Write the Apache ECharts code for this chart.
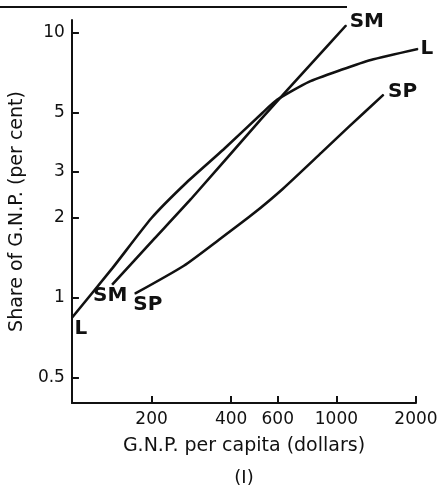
<!DOCTYPE html>
<html>
<head>
<meta charset="utf-8">
<title>Share of G.N.P.</title>
<script src="https://cdn.jsdelivr.net/npm/echarts@6.0.0/dist/echarts.min.js"></script>
<style>
  html, body { margin: 0; padding: 0; background: #fff; }
  #main { width: 442px; height: 490px; }
</style>
</head>
<body>
<div id="main"></div>
<script>
// values: G.N.P. per capita (dollars) vs share of G.N.P. (per cent)
var lX = [100, 142, 200, 272, 374, 526, 598, 787, 1044, 1349, 2035];
var lY = [0.84, 1.29, 2.0, 2.73, 3.63, 5.0, 5.6, 6.54, 7.26, 7.91, 8.71];
var smX = [142, 205, 282, 517, 828, 1089];
var smY = [1.12, 1.67, 2.36, 4.71, 7.91, 10.7];
var spX = [173, 265, 364, 483, 625, 880, 1108, 1508];
var spY = [1.035, 1.32, 1.67, 2.07, 2.57, 3.54, 4.40, 5.85];
var xTicks = [200, 400, 600, 1000, 2000];
var yTicks = [0.5, 1, 2, 3, 5, 10];

var ink = '#111';
var font = '"DejaVu Sans", sans-serif';

// pair up x/y and put the curve name at both ends
function curve(xs, ys, startLbl, endLbl) {
  var data = xs.map(function (x, i) { return [x, ys[i]]; });
  data[0] = { value: data[0], label: startLbl };
  data[data.length - 1] = { value: data[data.length - 1], label: endLbl };
  return data;
}
function lbl(text, pos, dist, offset) {
  return {
    show: true, formatter: text, position: pos, distance: dist, offset: offset || [0, 0],
    color: ink, fontFamily: font, fontSize: 20, fontWeight: 'bold'
  };
}
function plain(v) { return String(v); }

var myChart = echarts.init(document.getElementById('main'));

var lineStyle = { color: ink, width: 2.6 };
var base = {
  type: 'line',
  smooth: 0.2,
  clip: false,
  symbol: 'circle',
  symbolSize: 1,
  showSymbol: true,
  showAllSymbol: true,
  itemStyle: { color: ink },
  lineStyle: lineStyle,
  label: { show: false }
};

myChart.setOption({
  animation: false,
  grid: { left: 66, right: 26, top: 20, bottom: 87 },
  xAxis: {
    type: 'log',
    logBase: 10,
    min: 100,
    max: 2000,
    name: 'G.N.P. per capita (dollars)',
    nameLocation: 'middle',
    nameGap: 34,
    nameTextStyle: { color: ink, fontFamily: font, fontSize: 19 },
    axisLine: { show: true, onZero: false, lineStyle: { color: ink, width: 2 } },
    axisTick: { show: true, inside: true, length: 7, customValues: xTicks, lineStyle: { color: ink, width: 2 } },
    axisLabel: { customValues: xTicks, formatter: plain, margin: 8, color: ink, fontFamily: font, fontSize: 17 },
    splitLine: { show: false },
    minorTick: { show: false }
  },
  yAxis: {
    type: 'log',
    logBase: 10,
    min: 0.4,
    max: 11.2,
    name: 'Share of G.N.P. (per cent)',
    nameLocation: 'middle',
    nameGap: 34,
    nameTextStyle: { color: ink, fontFamily: font, fontSize: 19 },
    axisLine: { show: true, onZero: false, lineStyle: { color: ink, width: 2 } },
    axisTick: { show: true, inside: true, length: 7, customValues: yTicks, lineStyle: { color: ink, width: 2 } },
    axisLabel: { customValues: yTicks, formatter: plain, margin: 7, color: ink, fontFamily: font, fontSize: 17 },
    splitLine: { show: false },
    minorTick: { show: false }
  },
  series: [
    Object.assign({}, base, {
      name: 'L',
      data: curve(lX, lY, lbl('L', 'bottom', 1, [9, 0]), lbl('L', 'right', 2, [0, 0]))
    }),
    Object.assign({}, base, {
      name: 'SM',
      data: curve(smX, smY, lbl('SM', 'bottom', 1, [-2, 0]), lbl('SM', 'right', 3, [0, -3]))
    }),
    Object.assign({}, base, {
      name: 'SP',
      data: curve(spX, spY, lbl('SP', 'bottom', 1, [13, 0]), lbl('SP', 'right', 4, [0, -3]))
    })
  ],
  graphic: [
    { type: 'line', shape: { x1: 0, y1: 7, x2: 347, y2: 7 }, style: { stroke: ink, lineWidth: 2 } },
    { type: 'text', x: 244, y: 478, style: { text: '(I)', align: 'center', verticalAlign: 'middle', fill: ink, font: '18px "DejaVu Sans", sans-serif' } }
  ]
});
</script>
</body>
</html>
